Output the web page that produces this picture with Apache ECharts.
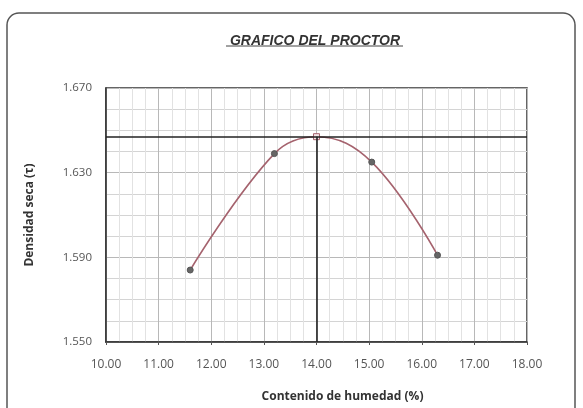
<!DOCTYPE html>
<html>
<head>
<meta charset="utf-8">
<script src="https://cdn.jsdelivr.net/npm/echarts@6/dist/echarts.min.js"></script>
<style>
  html, body { margin: 0; padding: 0; background: #fff; }
  #chart { width: 583px; height: 408px; }
</style>
</head>
<body>
<div id="chart"></div>
<script>
// humedad (%) y densidad seca de los puntos del ensayo
var humedad = [11.60, 13.20, 14.00, 15.05, 16.30];
var densidad = [1.584, 1.639, 1.647, 1.635, 1.591];
// densidad maxima y humedad optima
var densidadMax = 1.647;
var humedadOptima = 14.00;

var myChart = echarts.init(document.getElementById('chart'));

var puntos = humedad.map(function (h, i) {
	if (h == humedadOptima) {
		// el punto maximo va con un cuadrito
		return { value: [h, densidad[i]], symbol: 'rect', symbolSize: 6,
			itemStyle: { color: '#f4e6e8', borderColor: '#a5636e', borderWidth: 1 } };
	}
	return [h, densidad[i]];
});

var option = {
	animation: false,
	backgroundColor: '#fff',
	textStyle: { fontFamily: 'Open Sans' },
	title: {
		text: 'GRAFICO DEL PROCTOR',
		left: 310,
		textAlign: 'center',
		top: 29,
		textStyle: { fontSize: 14, fontWeight: 'bold', fontStyle: 'italic', color: '#333', fontFamily: 'Liberation Sans' }
	},
	graphic: [
		{ type: 'rect', shape: { x: 7, y: 13, width: 568, height: 420, r: 12 },
			style: { fill: 'none', stroke: '#555', lineWidth: 1.5 }, silent: true },
		{ type: 'line', shape: { x1: 226, y1: 46, x2: 403, y2: 46 },
			style: { stroke: '#444', lineWidth: 1 }, silent: true }
	],
	grid: {
		left: 106, right: 56, top: 88, bottom: 66,
		show: true, borderColor: '#333', borderWidth: 1.5
	},
	xAxis: {
		type: 'value',
		min: 10, max: 18, interval: 1,
		name: 'Contenido de humedad (%)',
		nameLocation: 'middle',
		nameGap: 49,
		nameTextStyle: { fontSize: 12, fontWeight: 'bold', color: '#333', padding: [0, 0, 0, 52] },
		axisLine: { lineStyle: { color: '#333', width: 1.5 } },
		axisTick: { show: true, length: 3, lineStyle: { color: '#555' } },
		axisLabel: { fontSize: 12, color: '#555', margin: 17, formatter: function (v) { return v.toFixed(2); } },
		splitLine: { lineStyle: { color: '#b8b8b8', width: 1 } },
		minorTick: { show: false, splitNumber: 4 },
		minorSplitLine: { show: true, lineStyle: { color: '#e2e2e2', width: 1 } }
	},
	yAxis: {
		type: 'value',
		min: 1.55, max: 1.67, interval: 0.04,
		name: 'Densidad seca (τ)',
		nameLocation: 'middle',
		nameGap: 70,
		nameTextStyle: { fontSize: 12, fontWeight: 'bold', color: '#333' },
		axisLine: { show: true, lineStyle: { color: '#333', width: 1.5 } },
		axisTick: { show: false },
		axisLabel: { fontSize: 11.5, color: '#555', margin: 14, formatter: function (v) { return v.toFixed(3); } },
		splitLine: { lineStyle: { color: '#b8b8b8', width: 1 } },
		minorTick: { show: false, splitNumber: 4 },
		minorSplitLine: { show: true, lineStyle: { color: '#d4d4d4', width: 1 } }
	},
	series: [
		{
			type: 'line',
			data: puntos,
			smooth: 0.4,
			symbol: 'circle',
			symbolSize: 6,
			lineStyle: { color: '#a5636e', width: 1.6 },
			itemStyle: { color: '#666', borderColor: '#555' },
			markLine: {
				silent: true,
				symbol: 'none',
				precision: 3,
				label: { show: false },
				lineStyle: { color: '#222', width: 1.6, type: 'solid' },
				data: [
					{ yAxis: densidadMax },
					[{ coord: [humedadOptima, densidadMax] }, { coord: [humedadOptima, 1.55] }]
				]
			},
			z: 3
		}
	]
};

myChart.setOption(option);
</script>
</body>
</html>
